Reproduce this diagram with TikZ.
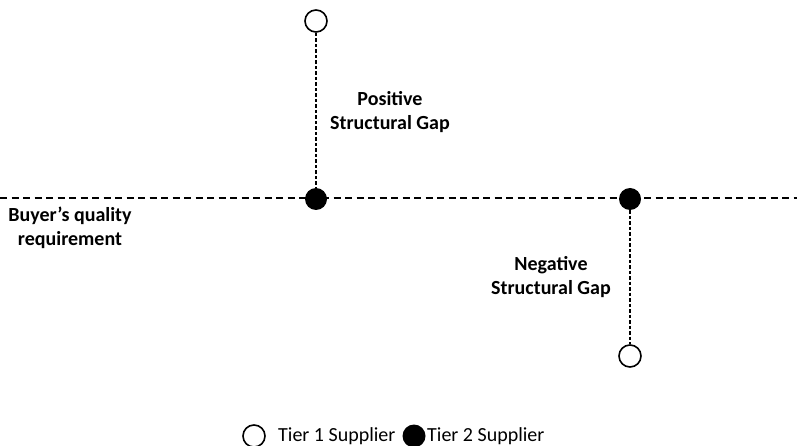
\documentclass[tikz,border=0pt]{standalone}
\usepackage{fontspec}
\setmainfont{Carlito}
\begin{document}
\begin{tikzpicture}[x=1pt,y=-1pt,
  hline/.style={line width=1.3pt, dash pattern=on 7pt off 4.5pt},
  vline/.style={line width=1.2pt, dash pattern=on 3.5pt off 2pt},
  opendot/.style={circle, draw, line width=1.6pt, fill=white, minimum size=22pt, inner sep=0pt},
  filldot/.style={circle, fill=black, minimum size=22pt, inner sep=0pt},
  lbl/.style={font=\fontsize{20}{24}\selectfont\bfseries, align=center, inner sep=0pt},
  leg/.style={font=\fontsize{20}{24}\selectfont, anchor=west, inner sep=0pt}]
\useasboundingbox (0,0) rectangle (797,446);
\coordinate (L) at (0,198);
\coordinate (R) at (797,198);
\draw[hline] (L) -- (R);
\node[filldot] (p2) at (316,199) {};
\node[opendot] (p1) at (316,21) {};
\node[filldot] (n2) at (630,199) {};
\node[opendot] (n1) at (630,356) {};
\draw[vline] (p1) -- (p2);
\draw[vline] (n2) -- (n1);
\node[lbl] (pos) at (390,112) {Positive\\Structural Gap};
\node[lbl] (neg) at (551,277) {Negative\\Structural Gap};
\node[lbl] (buy) at (70,228) {Buyer’s quality\\requirement};
\node[opendot] (k1) at (254,436) {};
\node[leg] (t1) at (278,436) {Tier 1 Supplier};
\node[filldot, minimum size=23pt] (k2) at (414,436) {};
\node[leg] (t2) at (427,436) {Tier 2 Supplier};
\end{tikzpicture}
\end{document}
